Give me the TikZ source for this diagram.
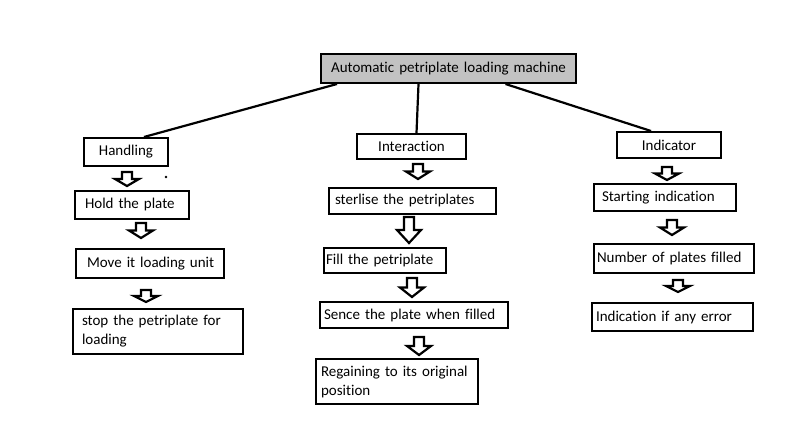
\documentclass[tikz,border=0pt]{standalone}
\usepackage{fontspec}
\setmainfont{Carlito}[Ligatures={NoCommon,NoContextual}]
\usetikzlibrary{positioning}

% hollow block arrow pointing down: x, top y, bottom y
\newcommand{\blockarrow}[3]{%
  \draw[line width=2.2pt, line join=miter]
    (#1-5,#2) -- (#1+5,#2) -- (#1+5,{#2+0.5*(#3-#2)}) -- (#1+12,{#2+0.5*(#3-#2)})
    -- (#1,#3) -- (#1-12,{#2+0.5*(#3-#2)}) -- (#1-5,{#2+0.5*(#3-#2)}) -- cycle;}

\tikzset{
  box/.style={draw, line width=2pt, anchor=north west, align=left,
    inner ysep=0pt, font=\fontsize{15}{19}\selectfont},
  head/.style={box, align=center},
  link/.style={line width=2.2pt}
}

\begin{document}
\begin{tikzpicture}[x=1pt, y=-1pt]
\useasboundingbox (0,0) rectangle (810,422);

\node[head, fill=black!24, text width=243pt, inner xsep=6pt, minimum height=29pt] (top) at (320,53) {Automatic petriplate loading machine};

% handling
\node[head, text width=76pt, inner xsep=4pt, minimum height=28pt] (handling) at (83,137) {Handling};
\node[box, text width=94pt, inner xsep=10pt, minimum height=28pt] (hold) at (74,190) {Hold the plate};
\node[box, text width=134pt, inner xsep=7pt, minimum height=29pt] (move) at (75,248) {\hspace*{4pt}Move it loading unit};
\node[box, text width=152pt, inner xsep=9pt, minimum height=45pt] (stop) at (72,308) {stop the petriplate for\\loading};

% interaction
\node[head, text width=101pt, inner xsep=4pt, minimum height=25pt] (interaction) at (356,133) {Interaction};
\node[box, text width=155pt, inner xsep=6pt, minimum height=26pt] (sterlise) at (328,187) {sterlise the petriplates};
\node[box, text width=118pt, inner xsep=2pt, minimum height=25pt] (fill) at (323,247) {Fill the petriplate};
\node[box, text width=180pt, inner xsep=4pt, minimum height=26pt] (sence) at (319,301) {Sence the plate when filled};
\node[box, text width=152pt, inner xsep=5pt, minimum height=45pt] (regain) at (315,358) {Regaining to its original\\position};

% indicator
\node[head, text width=96pt, inner xsep=4pt, minimum height=26pt] (indicator) at (616,131) {Indicator};
\node[box, text width=126pt, inner xsep=8pt, minimum height=27pt] (starting) at (593,183) {Starting indication};
\node[box, text width=154pt, inner xsep=3pt, minimum height=29pt] (number) at (593,243) {Number of plates filled};
\node[box, text width=153pt, inner xsep=4pt, minimum height=28pt] (error) at (591,302) {Indication if any error};

\draw[link] ([xshift=17pt]top.south west) -- ([xshift=18pt]handling.north);
\draw[link] ([xshift=-30pt]top.south) -- ([xshift=5pt]interaction.north);
\draw[link] ([xshift=57pt]top.south) -- ([xshift=-18pt]indicator.north);

\blockarrow{127}{172}{186}
\blockarrow{141}{223}{238}
\blockarrow{146}{290}{302}

\blockarrow{418}{164}{179}
\blockarrow{409}{217}{243}
\blockarrow{412}{278}{297}
\blockarrow{419}{337}{355}

\blockarrow{667}{167}{180}
\blockarrow{672}{220}{235}
\blockarrow{678}{280}{292}

\fill (166,177) circle (1.3pt);
\end{tikzpicture}
\end{document}
